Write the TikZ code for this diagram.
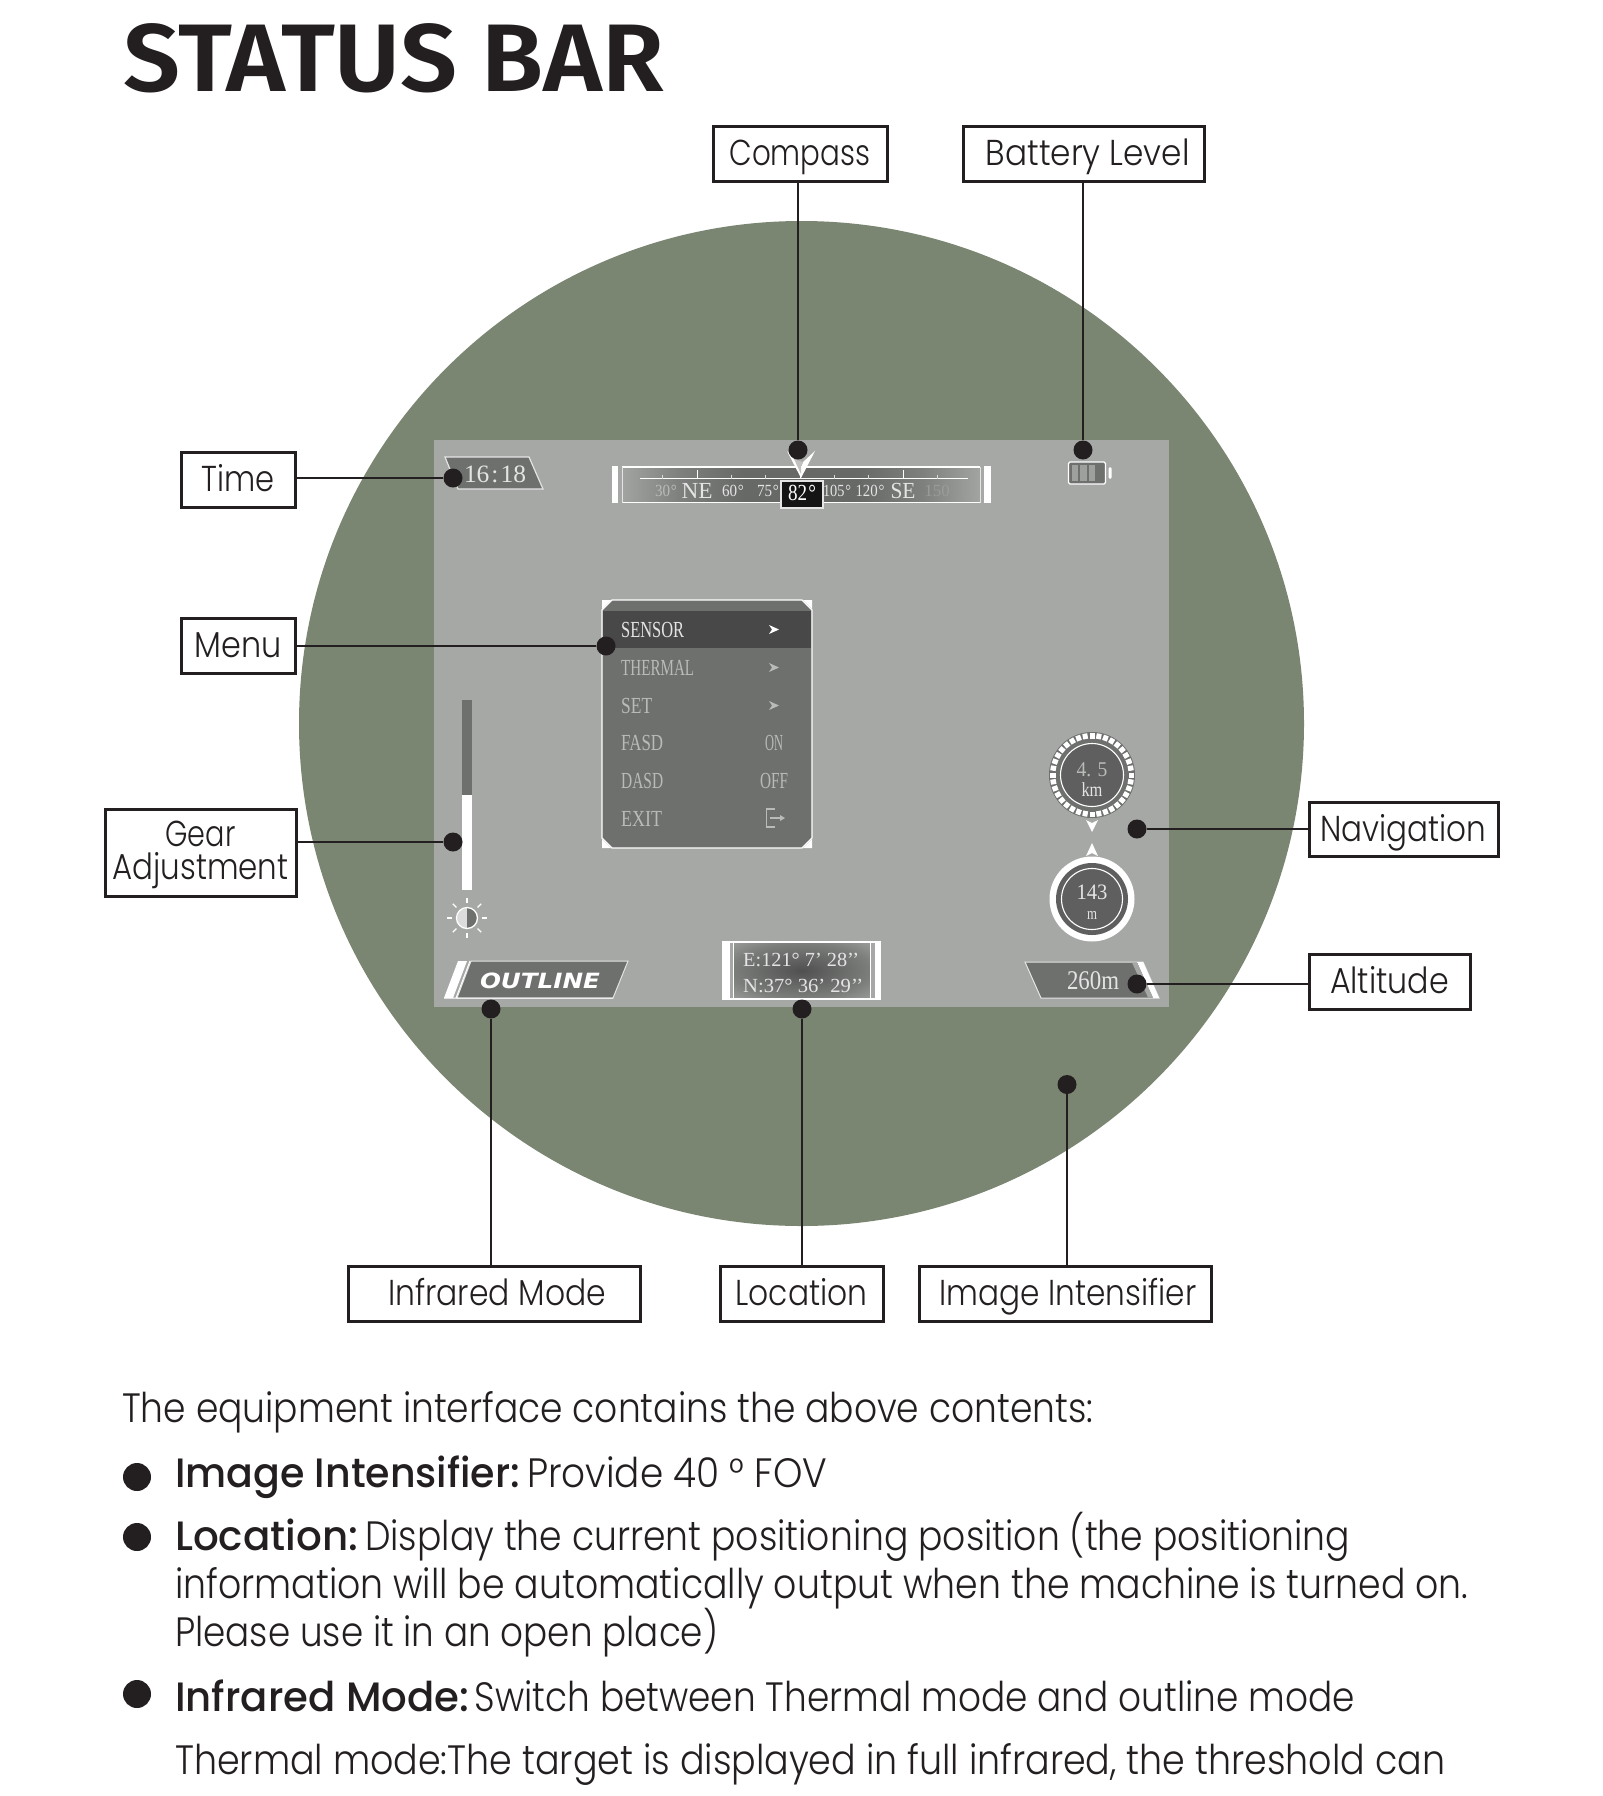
\documentclass[tikz,border=0pt]{standalone}
\usepackage{fontspec}
\usepackage{graphicx}
\usetikzlibrary{calc}
\setmainfont{Liberation Serif}
\newfontfamily\lightf{Poppins Light}
\newfontfamily\medf{Poppins Medium}
\newfontfamily\titlef{Fira Sans SemiBold}
\newfontfamily\wide{DejaVu Sans}
\definecolor{ink}{HTML}{231F20}
\definecolor{olive}{HTML}{7A8672}
\definecolor{screen}{HTML}{A6A8A5}
\definecolor{panel}{HTML}{6E706E}
\definecolor{panelD}{HTML}{474847}
\definecolor{txtL}{HTML}{E4E4E4}
\definecolor{txtM}{HTML}{B9BBB9}
\definecolor{barA}{HTML}{A2A4A1}
\definecolor{barB}{HTML}{7E807E}
\definecolor{barC}{HTML}{676967}
\definecolor{locA}{HTML}{4F504F}
\definecolor{locB}{HTML}{7C7E7C}
\definecolor{locC}{HTML}{9A9C9A}
\pgfdeclarehorizontalshading{barS}{100bp}{color(0bp)=(barA);color(25bp)=(barA);color(33bp)=(barB);color(42bp)=(barC);color(58bp)=(barC);color(67bp)=(barB);color(75bp)=(barA);color(100bp)=(barA)}
\pgfdeclareradialshading{locS}{\pgfpoint{0bp}{0bp}}{color(0bp)=(locA);color(25bp)=(locB);color(36bp)=(locC);color(50bp)=(locC)}
\newcommand\ft[2]{\resizebox{#1pt}{\height}{#2}}
\newcommand\sz[1]{\fontsize{#1}{#1}\selectfont}
\tikzset{
  x=1pt,y=-1pt,
  labelbox/.style={draw=ink,line width=3pt,fill=white,inner sep=0pt,text=ink,
    font=\lightf\sz{36},text height=23pt,text depth=0pt,anchor=center},
  dot/.style={circle,fill=ink,draw=none,minimum size=19pt,inner sep=0pt},
  conn/.style={draw=ink,line width=2.8pt},
  para/.style={anchor=base west,inner sep=0pt,text=ink,font=\lightf\sz{41}},
  bold/.style={anchor=base west,inner sep=0pt,text=ink,font=\medf\sz{41}},
  bul/.style={circle,fill=ink,minimum size=28pt,inner sep=0pt},
  ui/.style={anchor=base,inner sep=0pt,text=txtL},
  menuL/.style={anchor=base west,inner sep=0pt,text=txtM,font=\sz{23}},
  menuR/.style={anchor=base,inner sep=0pt,text=txtM,font=\sz{23}},
  thin white/.style={draw=white,line width=1.2pt},
}
\begin{document}
\begin{tikzpicture}
\useasboundingbox (0,0) rectangle (1603,1796);
\fill[white] (0,0) rectangle (1603,1796);
% title
\node[anchor=base west,inner sep=0pt,text=ink,font=\titlef\sz{96}] (title) at (123,91) {\ft{541}{STATUS BAR}};
% scope circle and screen
\fill[olive] (801.5,723.5) circle[radius=502.5];
\fill[screen] (434,439.5) rectangle (1169,1007);

% time badge
\filldraw[fill=panel,draw=txtL,line width=1.2pt] (445,457) -- (529,457) -- (543,489) -- (458,489) -- cycle;
\node[ui,font=\sz{25}] (timeT) at (495,482) {\ft{62}{16\kern2pt:\kern2pt 18}};

% compass bar
\shade[shading=barS] (622,467) rectangle (980,502);
\draw[thin white] (622,467) -- (980,467) (622,502.5) -- (980,502.5);
\draw[txtL,line width=0.8pt] (622,467) -- (622,502.5) (980,467) -- (980,502.5);
\fill[white] (612,466) rectangle (618,503);
\fill[white] (984,466) rectangle (991,503);
\draw[white,line width=0.9pt] (640,478.7) -- (968,478.7);
\foreach \tx in {662,731,765,834,868,937} \draw[white!85!black,line width=0.8pt] (\tx,474.5) -- (\tx,478.7);
\foreach \tx in {697,800,903} \draw[white,line width=0.9pt] (\tx,469.5) -- (\tx,478.7);
\node[ui,font=\sz{17},text=txtM] (c30) at (666,496) {\ft{22}{30\kern1pt°}};
\node[ui,font=\sz{23}] (cNE) at (697,498) {\ft{31}{NE}};
\node[ui,font=\sz{17},text=txtL] (c60) at (733,496) {\ft{22}{60\kern1pt°}};
\node[ui,font=\sz{17},text=txtL] (c75) at (768,496) {\ft{22}{75\kern1pt°}};
\node[ui,font=\sz{17},text=txtL] (c105) at (837,496) {\ft{28}{105\kern1pt°}};
\node[ui,font=\sz{17},text=txtL] (c120) at (870,496) {\ft{29}{120\kern1pt°}};
\node[ui,font=\sz{23}] (cSE) at (903,498) {\ft{25}{SE}};
\node[ui,font=\sz{17},text=barA!85!panel] (c150) at (937,496) {150};
\filldraw[fill=black!92,draw=txtL,line width=1.2pt] (781,481) rectangle (823,508);
\node[ui,font=\sz{23},text=white] (c82) at (802,500) {\ft{28}{82\kern1.5pt°}};
\fill[white] (787,451) -- (801,478) -- (815,451) -- (803,462) -- (801,468) -- (797,462) -- cycle;
\fill[screen!70!white] (794,459) -- (801,474) -- (801,466) -- (803,462) -- cycle;

% battery
\fill[white,rounded corners=1.5pt] (1108.5,467) rectangle (1111.5,479);
\filldraw[fill=panel,draw=white,line width=1.3pt,rounded corners=1.5pt] (1068.5,462) rectangle (1105.5,484);
\fill[screen!85!panel] (1071.5,465) rectangle (1078,481);
\fill[screen!85!panel] (1080,465) rectangle (1086.5,481);
\fill[screen!85!panel] (1088.5,465) rectangle (1095,481);

% menu
\filldraw[fill=panel,draw=white,line width=1.2pt] (612,600) -- (802,600) -- (812,610) -- (812,838) -- (802,848) -- (612,848) -- (602,838) -- (602,610) -- cycle;
\fill[panelD] (602.6,611) rectangle (811.4,648);
\fill[white] (602,600) -- (611,600) -- (602,609) -- cycle;
\fill[white] (812,600) -- (803,600) -- (812,609) -- cycle;
\fill[white] (602,848) -- (611,848) -- (602,839) -- cycle;
\fill[white] (812,848) -- (803,848) -- (812,839) -- cycle;
\node[menuL,text=txtL] (mSensor) at (621,637) {\ft{63}{SENSOR}};
\node[menuL] (mThermal) at (621,675) {\ft{73}{THERMAL}};
\node[menuL] (mSet) at (621,713) {\ft{31}{SET}};
\node[menuL] (mFasd) at (621,750) {\ft{42}{FASD}};
\node[menuL] (mDasd) at (621,788) {\ft{42}{DASD}};
\node[menuL] (mExit) at (621,826) {\ft{41}{EXIT}};
\node[menuR] (mOn) at (774,750) {\ft{18}{ON}};
\node[menuR] (mOff) at (774,788) {\ft{28}{OFF}};
\fill[white] (769,625) -- (779,629.5) -- (769,634) -- (772,629.5) -- cycle;
\fill[txtM] (769,663) -- (779,667.5) -- (769,672) -- (772,667.5) -- cycle;
\fill[txtM] (769,701) -- (779,705.5) -- (769,710) -- (772,705.5) -- cycle;
\draw[txtM,line width=1.1pt] (775,809) -- (766.5,809) -- (766.5,827) -- (775,827);
\draw[txtM,line width=1.1pt] (770,818) -- (781,818);
\fill[txtM] (785,818) -- (780,815) -- (780,821) -- cycle;

% gear slider
\fill[panel] (462,700) rectangle (472,795);
\fill[white] (462,795) rectangle (472,890);
% sun
\fill[screen!40!white] (467,908) arc[start angle=-90,end angle=-270,radius=10] -- cycle;
\fill[panel] (467,908) arc[start angle=-90,end angle=90,radius=10] -- cycle;
\draw[white,line width=1.3pt] (467,918) circle[radius=10.5];
\foreach \a in {0,45,...,315} \draw[white,line width=1.2pt] ($(467,918)+(\a:15)$) -- ($(467,918)+(\a:20)$);

% outline badge
\filldraw[fill=panel,draw=txtL,line width=1pt] (471,961) -- (628,961) -- (613,998) -- (457,998) -- cycle;
\fill[white] (444,998) -- (458,961) -- (467,961) -- (453,998) -- cycle;
\draw[white,line width=1pt] (470,961) -- (456,998) (444,998) -- (613,998);
\node[ui,font=\wide\bfseries\itshape\sz{21},text=white] (outlineT) at (540,988) {\ft{120}{OUTLINE}};

% location box
\shade[shading=locS] (733,943) rectangle (870,998);
\draw[thin white] (723,942) rectangle (880,999);
\fill[white] (723,942) rectangle (730,999);
\fill[white] (875,942) rectangle (880,999);
\draw[white,line width=1pt] (733,942) -- (733,999) (870,942) -- (870,999);
\node[anchor=base west,inner sep=0pt,text=txtL,font=\sz{20}] (locE) at (743,966) {\ft{116}{E:121° 7’ 28’’}};
\node[anchor=base west,inner sep=0pt,text=txtL,font=\sz{20}] (locN) at (743,992) {\ft{120}{N:37° 36’ 29’’}};

% navigation circles
\fill[panel] (1092,775) circle[radius=43];
\foreach \a in {0,10,...,350} \fill[white,rotate around={\a:(1092,775)}] (1089.5,733) rectangle (1094.5,738.5);
\fill[panel!85!black] (1092,775) circle[radius=31];
\draw[white,line width=1.1pt] (1092,775) circle[radius=31.5];
\node[ui,font=\sz{21},text=txtM] (navKm) at (1092,776) {\ft{31}{4. 5}};
\node[ui,font=\sz{20},text=txtL] (navU) at (1092,796) {\ft{21}{km}};
\fill[white] (1086,820) -- (1092,823) -- (1098,820) -- (1092,832) -- cycle;
\fill[white] (1086,856) -- (1092,853) -- (1098,856) -- (1092,843) -- cycle;
\fill[white] (1092,899) circle[radius=42.5];
\fill[panel!85!black] (1092,899) circle[radius=36];
\draw[white,line width=1.1pt] (1092,899) circle[radius=30.5];
\node[ui,font=\sz{22},text=txtL] (altN) at (1092,899) {\ft{31}{143}};
\node[ui,font=\sz{17},text=txtL] (altU) at (1092,919) {\ft{10}{m}};

% altitude badge
\filldraw[fill=panel,draw=txtL,line width=1pt] (1025,962) -- (1143,962) -- (1159,998) -- (1041,998) -- cycle;
\fill[white] (1137,962) -- (1143,962) -- (1159,998) -- (1153,998) -- cycle;
\fill[screen] (1132,962.5) -- (1137,962.5) -- (1153,997.5) -- (1148,997.5) -- cycle;
\node[ui,font=\sz{27}] (altT) at (1093,989) {\ft{52}{260m}};

% labels
\node[labelbox,minimum width=174pt,minimum height=55pt] (lCompass) at (800,153.5) {\ft{141}{Compass}};
\node[labelbox,minimum width=241.5pt,minimum height=55pt] (lBattery) at (1083.75,153.5) {\hspace*{8pt}\ft{204}{Battery Level}};
\node[labelbox,minimum width=114pt,minimum height=55pt] (lTime) at (238,479.5) {\ft{73}{Time}};
\node[labelbox,minimum width=114pt,minimum height=55pt] (lMenu) at (238,645.5) {\ft{87}{Menu}};
\node[labelbox,minimum width=191pt,minimum height=87pt,text height=,text depth=,align=center,font=\lightf\fontsize{36}{33}\selectfont] (lGear) at (200.5,852.5) {\rule{0pt}{31pt}\ft{70}{Gear}\\[0pt]\ft{176}{Adjustment}};
\node[labelbox,minimum width=189pt,minimum height=54pt] (lNav) at (1403.5,829.5) {\ft{166}{Navigation}};
\node[labelbox,minimum width=161pt,minimum height=55pt] (lAlt) at (1389.5,981.5) {\ft{119}{Altitude}};
\node[labelbox,minimum width=292pt,minimum height=55pt] (lIR) at (494,1293.5) {\hspace*{6pt}\ft{218}{Infrared Mode}};
\node[labelbox,minimum width=163pt,minimum height=55pt] (lLoc) at (801.5,1293.5) {\ft{132}{Location}};
\node[labelbox,minimum width=292pt,minimum height=55pt] (lII) at (1065,1293.5) {\hspace*{6pt}\ft{257}{Image Intensifier}};

% dots
\node[dot] (dCompass) at (798,450) {};
\node[dot] (dBattery) at (1083,450) {};
\node[dot] (dTime) at (453,478) {};
\node[dot] (dMenu) at (606,646) {};
\node[dot] (dGear) at (453,842) {};
\node[dot] (dNav) at (1137,829) {};
\node[dot] (dAlt) at (1137,984) {};
\node[dot] (dIR) at (491,1009) {};
\node[dot] (dLoc) at (802,1009) {};
\node[dot] (dII) at (1067,1084.5) {};

% connectors
\draw[conn] (dCompass) -- (dCompass |- lCompass.south);
\draw[conn] (dBattery) -- (dBattery |- lBattery.south);
\draw[conn] (dTime) -- (dTime -| lTime.east);
\draw[conn] (dMenu) -- (dMenu -| lMenu.east);
\draw[conn] (dGear) -- (dGear -| lGear.east);
\draw[conn] (dNav) -- (dNav -| lNav.west);
\draw[conn] (dAlt) -- (dAlt -| lAlt.west);
\draw[conn] (dIR) -- (dIR |- lIR.north);
\draw[conn] (dLoc) -- (dLoc |- lLoc.north);
\draw[conn] (dII) -- (dII |- lII.north);

% body text
\node[para] (p0) at (122,1422) {\ft{971}{The equipment interface contains the above contents:}};
\node[bul] (b1) at (137,1477) {};
\node[bold] (h1) at (175,1487) {\ft{345}{Image Intensifier:}};
\node[para] (t1) at (527,1487) {\ft{300}{Provide 40 ° FOV}};
\node[bul] (b2) at (137,1537) {};
\node[bold] (h2) at (175,1550) {\ft{183}{Location:}};
\node[para] (t2) at (365,1550) {\ft{985}{Display the current positioning position (the positioning}};
\node[para] (t2b) at (175,1598) {\ft{1293}{information will be automatically output when the machine is turned on.}};
\node[para] (t2c) at (175,1646) {\ft{543}{Please use it in an open place)}};
\node[bul] (b3) at (137,1694) {};
\node[bold] (h3) at (175,1711) {\ft{294}{Infrared Mode:}};
\node[para] (t3) at (474.5,1711) {\ft{880}{Switch between Thermal mode and outline mode}};
\node[para] (t3b) at (175,1774) {\ft{1270}{Thermal mode:The target is displayed in full infrared, the threshold can}};
\end{tikzpicture}
\end{document}
